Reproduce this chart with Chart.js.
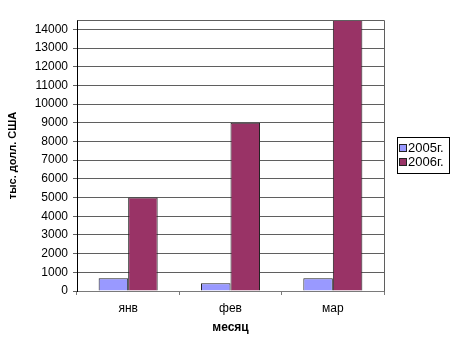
<!DOCTYPE html>
<html><head><meta charset="utf-8">
<script src="https://cdn.jsdelivr.net/npm/chart.js@4"></script>
<style>html,body{margin:0;padding:0;background:#fff}</style>
</head><body>
<canvas id="c" width="451" height="350"></canvas>
<script>
const categories = ['янв', 'фев', 'мар'];
const series2005 = [680, 410, 680];
const series2006 = [5000, 9000, 14500];
const seriesNames = ['2005г.', '2006г.'];
const seriesColors = ['#9999FF', '#993366'];
const yTickValues = [0,1000,2000,3000,4000,5000,6000,7000,8000,9000,10000,11000,12000,13000,14000];
const yTitle = 'тыс. долл. США';
const xTitle = 'месяц';

const FONT = '"Liberation Sans", Arial, sans-serif';

const bgPlugin = {
  id: 'bg',
  beforeDraw(chart) {
    const ctx = chart.ctx;
    ctx.save();
    ctx.fillStyle = '#fff';
    ctx.fillRect(0, 0, chart.width, chart.height);
    ctx.restore();
  }
};

const framePlugin = {
  id: 'frame',
  afterDatasetsDraw(chart) {
    const a = chart.chartArea, ctx = chart.ctx;
    ctx.save();
    ctx.strokeStyle = '#5f5f5f';
    ctx.lineWidth = 1;
    ctx.beginPath();
    ctx.moveTo(Math.round(a.left) + 0.5, Math.round(a.top) + 0.5);
    ctx.lineTo(Math.round(a.right) + 0.5, Math.round(a.top) + 0.5);
    ctx.lineTo(Math.round(a.right) + 0.5, Math.round(a.bottom) + 0.5);
    ctx.stroke();
    ctx.restore();
  }
};

const legendPlugin = {
  id: 'boxLegend',
  afterDraw(chart) {
    const ctx = chart.ctx;
    const a = chart.chartArea;
    const x0 = 397, w = 52;
    const rowH = 13.5;
    const h = 36;
    const yMid = (a.top + a.bottom) / 2;
    const y0 = Math.round(yMid - h / 2 - 0.5);
    ctx.save();
    ctx.strokeStyle = '#000';
    ctx.lineWidth = 1;
    ctx.strokeRect(x0 + 0.5, y0 + 0.5, w, h);
    ctx.font = '13px ' + FONT;
    ctx.textBaseline = 'middle';
    ctx.textAlign = 'left';
    chart.data.datasets.forEach((ds, i) => {
      const cy = y0 + 11 + i * rowH;
      ctx.fillStyle = ds.backgroundColor;
      ctx.fillRect(x0 + 3, Math.round(cy - 3), 6, 6);
      ctx.strokeStyle = '#222';
      ctx.strokeRect(x0 + 2.5, Math.round(cy - 3) - 0.5, 7, 7);
      ctx.fillStyle = '#000';
      ctx.fillText(ds.label, x0 + 11, cy + 0.5);
    });
    ctx.restore();
  }
};

new Chart(document.getElementById('c'), {
  type: 'bar',
  data: {
    labels: categories,
    datasets: [
      { label: seriesNames[0], data: series2005, backgroundColor: seriesColors[0], borderColor: '#222', borderWidth: 1 },
      { label: seriesNames[1], data: series2006, backgroundColor: seriesColors[1], borderColor: '#222', borderWidth: 1 }
    ]
  },
  options: {
    responsive: false,
    devicePixelRatio: 1,
    animation: false,
    layout: { padding: { left: 0, top: 20, right: 67, bottom: 0 } },
    datasets: { bar: { categoryPercentage: 0.577, barPercentage: 1.0 } },
    plugins: { legend: { display: false }, tooltip: { enabled: false } },
    scales: {
      x: {
        afterFit(s) { s.height = 59; },
        grid: { display: true, drawOnChartArea: false, drawTicks: true, tickLength: 4, color: '#7a7a7a', offset: true },
        border: { display: true, color: '#7a7a7a' },
        ticks: { color: '#000', font: { family: FONT, size: 12 }, padding: 6, maxRotation: 0 },
        title: { display: true, text: xTitle, color: '#000', font: { family: FONT, size: 12, weight: 'bold' }, padding: 15 }
      },
      y: {
        min: 0,
        max: 14500,
        afterFit(s) { s.width = 77; },
        afterBuildTicks(s) { s.ticks = yTickValues.map(v => ({ value: v })); },
        grid: { color: '#5f5f5f', tickLength: 4, drawTicks: true },
        border: { display: true, color: '#000' },
        ticks: { color: '#000', font: { family: FONT, size: 12 }, padding: 5, callback: v => String(v) },
        title: { display: true, text: yTitle, color: '#000', font: { family: FONT, size: 11, weight: 'bold' }, padding: 6 }
      }
    }
  },
  plugins: [bgPlugin, framePlugin, legendPlugin]
});
</script>
</body></html>
